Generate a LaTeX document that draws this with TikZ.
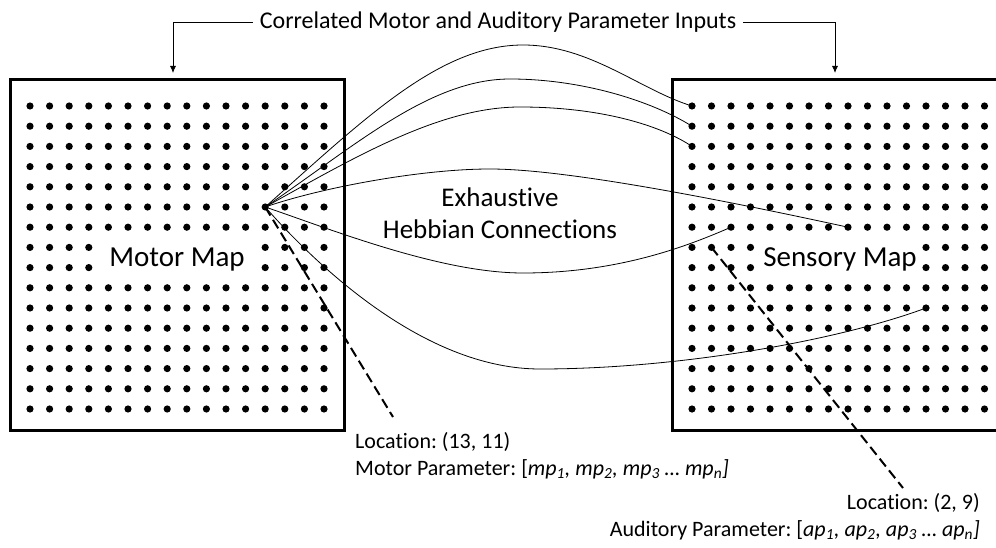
\documentclass[tikz,border=0pt]{standalone}
\usepackage{fontspec}
\setmainfont{Carlito}[Ligatures=NoCommon]
\usetikzlibrary{arrows.meta}
\frenchspacing
\begin{document}
\begin{tikzpicture}[x=1pt,y=-1pt,
  dot/.style={circle,fill=black,inner sep=0pt,minimum size=7.2pt},
  mapbox/.style={draw=black,line width=3pt},
  link/.style={line width=0.8pt},
  locline/.style={line width=2pt,dash pattern=on 10pt off 5pt},
  feed/.style={line width=0.8pt,-{Latex[length=7pt,width=6pt]}},
  lbl/.style={font=\fontsize{22}{26}\selectfont,inner sep=0pt},
  mapname/.style={font=\fontsize{29}{34}\selectfont,inner sep=0pt,anchor=base},
  midtext/.style={font=\fontsize{27}{31}\selectfont,inner sep=0pt,anchor=base},
]
\clip (0,0) rectangle (996,548);
\fill[white] (0,0) rectangle (996,548);
% boxes
\draw[mapbox] (10.5,80) rectangle (344,430);
\draw[mapbox] (672,79.5) rectangle (1010,430.5);
% dots
\foreach \i in {1,...,16}{
  \foreach \j in {1,...,16}{
    \pgfmathtruncatemacro\gapflag{and(or(\j==8,\j==9),and(\i>4,\i<13))}
    \ifnum\gapflag=0
      \node[dot] (m-\i-\j) at ({30+19.6*(\i-1)},{106+20.2*(\j-1)}) {};
      \node[dot] (s-\i-\j) at ({692+19.5*(\i-1)},{106+20.2*(\j-1)}) {};
    \fi
  }
}
% map names
\node[mapname] (mm) at (177,266) {Motor Map};
\node[mapname] (sm) at (840,266) {Sensory Map};
\node[midtext] (ex) at (500,207) {Exhaustive};
\node[midtext] (hc) at (500,239) {Hebbian Connections};
% title and input arrows
\node[font=\fontsize{24}{29}\selectfont,inner sep=7pt] (title) at (498,22) {Correlated Motor and Auditory Parameter Inputs};
\coordinate (mtop) at (173,73);
\coordinate (stop) at (835,73);
\draw[feed] (title.west) -| (mtop);
\draw[feed] (title.east) -| (stop);
% Hebbian connections
\draw[link] (m-13-6.center) .. controls (365,118) and (440,45) .. (523,45)
  .. controls (590,45) and (640,90) .. (s-1-1.center);
\draw[link] (m-13-6.center) .. controls (355,146) and (430,79) .. (510,79)
  .. controls (580,79) and (650,100) .. (s-1-2.center);
\draw[link] (m-13-6.center) .. controls (355,157) and (440,107) .. (520,107)
  .. controls (600,107) and (660,125) .. (s-1-3.center);
\draw[link] (m-13-6.center) .. controls (320,188) and (420,169) .. (490,169)
  .. controls (560,169) and (700,195) .. (s-9-7.center);
\draw[link] (m-13-6.center) .. controls (330,229) and (440,273) .. (523,273)
  .. controls (620,273) and (690,245) .. (s-3-7.center);
\draw[link] (m-13-6.center) .. controls (325,275) and (430,369) .. (540,369)
  .. controls (680,369) and (840,340) .. (s-13-11.center);
% location pointers
\coordinate (mend) at (393,417);
\coordinate (send) at (903,488);
\draw[locline] (m-13-6.center) -- (mend);
\draw[locline] (s-2-8.center) -- (send);
% labels
\node[lbl,anchor=base west] (loc1) at (355,448) {Location: (13, 11)};
\node[lbl,anchor=base west] (par1) at (355,475) {Motor Parameter: [\textit{mp\textsubscript{1}, mp\textsubscript{2}, mp\textsubscript{3} … mp\textsubscript{n}]}};
\node[lbl,anchor=base east] (loc2) at (980,509) {Location: (2, 9)};
\node[lbl,anchor=base east] (par2) at (980,536) {Auditory Parameter: [\textit{ap\textsubscript{1}, ap\textsubscript{2}, ap\textsubscript{3} … ap\textsubscript{n}]}};
\end{tikzpicture}
\end{document}
